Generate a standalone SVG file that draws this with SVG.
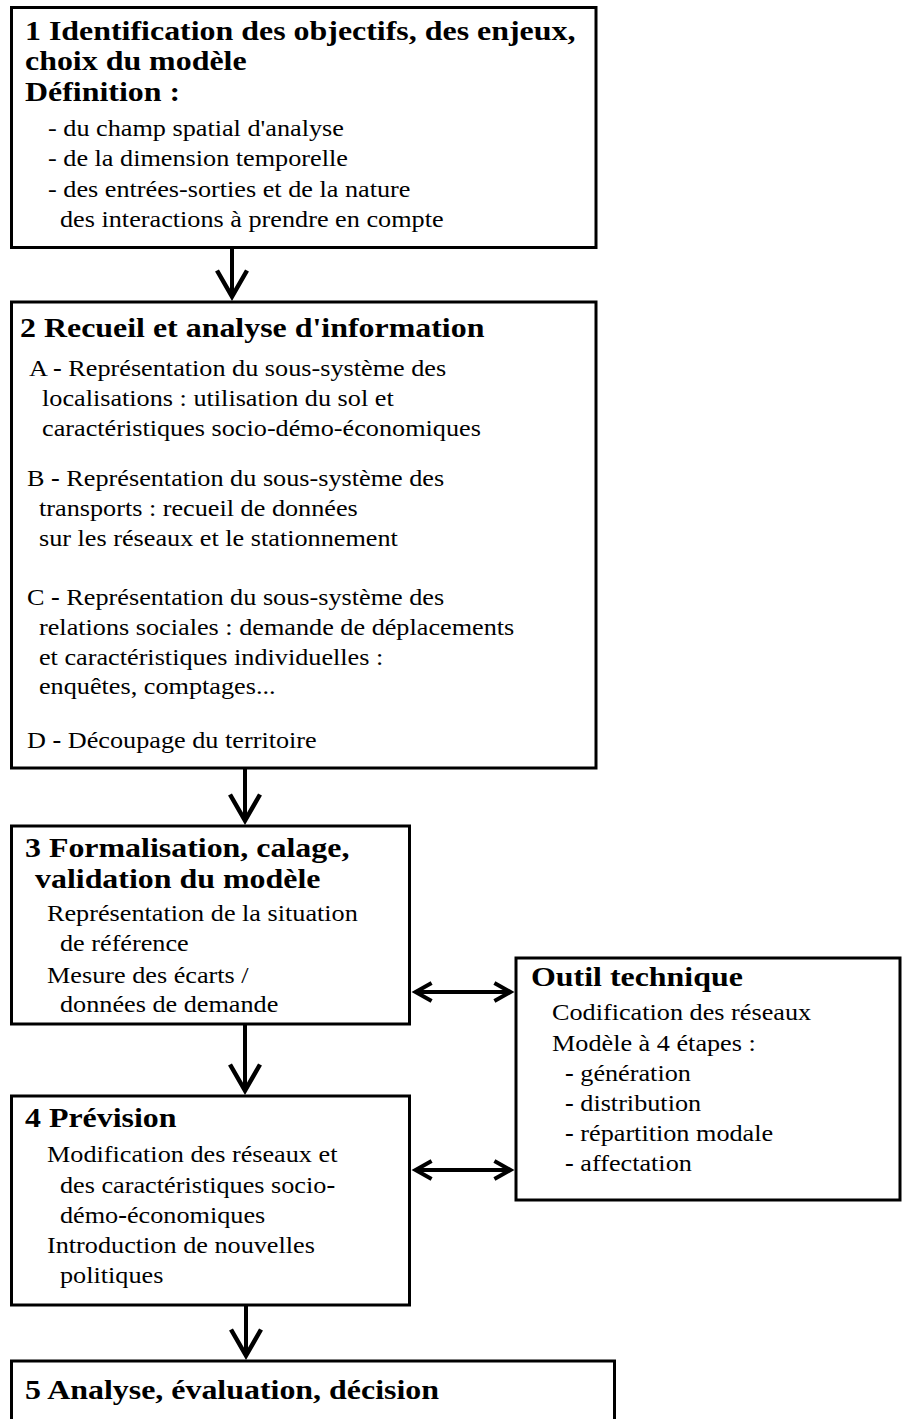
<svg xmlns="http://www.w3.org/2000/svg" width="903" height="1419" viewBox="0 0 903 1419">
<style>
.box{fill:#fff;stroke:#000;stroke-width:3}
.h{font-family:"Liberation Serif","Times New Roman",serif;font-weight:bold;font-size:28px;fill:#000}
.b{font-family:"Liberation Serif","Times New Roman",serif;font-size:23px;fill:#000}
.bd{font-weight:bold}
.c{fill:none;stroke:#000;stroke-width:4}
</style>
<defs>
<marker id="av" markerUnits="userSpaceOnUse" markerWidth="40" markerHeight="40" viewBox="0 0 40 36" refX="30.5" refY="18" orient="auto">
<path d="M4,3 L30,18 L4,33" fill="none" stroke="#000" stroke-width="4.5" stroke-linejoin="miter" stroke-miterlimit="6"/>
</marker>
<marker id="ah" markerUnits="userSpaceOnUse" markerWidth="28" markerHeight="24" viewBox="0 0 28 22" refX="19.1" refY="11" orient="auto-start-reverse">
<path d="M3,2 L19,11 L3,20" fill="none" stroke="#000" stroke-width="4" stroke-linejoin="miter" stroke-miterlimit="6"/>
</marker>
</defs>
<rect width="903" height="1419" fill="#fff"/>

<g id="connectors">
<line class="c" x1="232" y1="249" x2="232" y2="297" marker-end="url(#av)"/>
<line class="c" x1="245" y1="769" x2="245" y2="821" marker-end="url(#av)"/>
<line class="c" x1="245" y1="1025" x2="245" y2="1091" marker-end="url(#av)"/>
<line class="c" x1="246" y1="1306" x2="246" y2="1356" marker-end="url(#av)"/>
<line class="c" x1="415.5" y1="992" x2="510.5" y2="992" marker-start="url(#ah)" marker-end="url(#ah)"/>
<line class="c" x1="415.5" y1="1170" x2="510.5" y2="1170" marker-start="url(#ah)" marker-end="url(#ah)"/>
</g>

<g id="n1">
<rect class="box" x="11.5" y="7.5" width="584.5" height="240"/>
<g transform="scale(1.14 1)">
<text class="h" x="21.93" y="40">1 Identification des objectifs, des enjeux,</text>
<text class="h" x="21.93" y="70">choix du modèle</text>
<text class="h" x="21.93" y="101">Définition :</text>
<text class="b" x="42.11" y="136">- du champ spatial d'analyse</text>
<text class="b" x="42.11" y="166.5">- de la dimension temporelle</text>
<text class="b" x="42.11" y="197">- des entrées-sorties et de la nature</text>
<text class="b" x="52.63" y="227">des interactions à prendre en compte</text>
</g>
</g>

<g id="n2">
<rect class="box" x="11.5" y="302" width="584.5" height="466"/>
<g transform="scale(1.14 1)">
<text class="h" x="17.54" y="337">2 Recueil et analyse d'information</text>
<text class="b" x="25.44" y="376">A <tspan class="bd">-</tspan> Représentation du sous-système des</text>
<text class="b" x="36.84" y="406">localisations : utilisation du sol et</text>
<text class="b" x="36.84" y="436">caractéristiques socio-démo-économiques</text>
<text class="b" x="23.68" y="486">B <tspan class="bd">-</tspan> Représentation du sous-système des</text>
<text class="b" x="34.21" y="516">transports : recueil de données</text>
<text class="b" x="34.21" y="546">sur les réseaux et le stationnement</text>
<text class="b" x="23.68" y="605">C <tspan class="bd">-</tspan> Représentation du sous-système des</text>
<text class="b" x="34.21" y="635">relations sociales : demande de déplacements</text>
<text class="b" x="34.21" y="665">et caractéristiques individuelles :</text>
<text class="b" x="34.21" y="694">enquêtes, comptages...</text>
<text class="b" x="23.68" y="748">D <tspan class="bd">-</tspan> Découpage du territoire</text>
</g>
</g>

<g id="n3">
<rect class="box" x="11.5" y="826" width="398" height="198"/>
<g transform="scale(1.14 1)">
<text class="h" x="21.93" y="857">3 Formalisation, calage,</text>
<text class="h" x="30.70" y="888">validation du modèle</text>
<text class="b" x="41.23" y="921">Représentation de la situation</text>
<text class="b" x="52.63" y="951">de référence</text>
<text class="b" x="41.23" y="983">Mesure des écarts /</text>
<text class="b" x="52.63" y="1012">données de demande</text>
</g>
</g>

<g id="n_outil">
<rect class="box" x="516" y="958" width="384" height="242"/>
<g transform="scale(1.14 1)">
<text class="h" x="465.79" y="986">Outil technique</text>
<text class="b" x="484.21" y="1020">Codification des réseaux</text>
<text class="b" x="484.21" y="1051">Modèle à 4 étapes :</text>
<text class="b" x="495.61" y="1081"><tspan class="bd">-</tspan> génération</text>
<text class="b" x="495.61" y="1111"><tspan class="bd">-</tspan> distribution</text>
<text class="b" x="495.61" y="1141"><tspan class="bd">-</tspan> répartition modale</text>
<text class="b" x="495.61" y="1171"><tspan class="bd">-</tspan> affectation</text>
</g>
</g>

<g id="n4">
<rect class="box" x="11.5" y="1096" width="398" height="209"/>
<g transform="scale(1.14 1)">
<text class="h" x="21.93" y="1127">4 Prévision</text>
<text class="b" x="41.23" y="1162">Modification des réseaux et</text>
<text class="b" x="52.63" y="1193">des caractéristiques socio<tspan class="bd">-</tspan></text>
<text class="b" x="52.63" y="1223">démo<tspan class="bd">-</tspan>économiques</text>
<text class="b" x="41.23" y="1253">Introduction de nouvelles</text>
<text class="b" x="52.63" y="1283">politiques</text>
</g>
</g>

<g id="n5">
<rect class="box" x="11.5" y="1361" width="603" height="80"/>
<g transform="scale(1.14 1)">
<text class="h" x="21.93" y="1399">5 Analyse, évaluation, décision</text>
</g>
</g>
</svg>
